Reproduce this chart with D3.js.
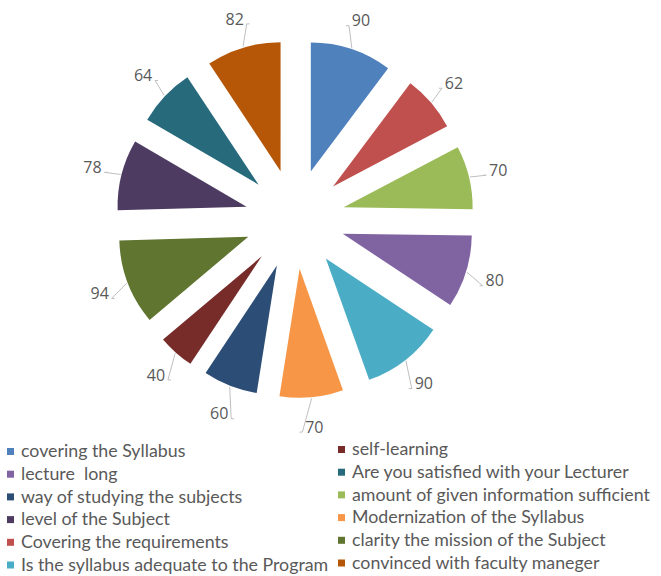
<!DOCTYPE html>
<meta charset="utf-8">
<script src="https://d3js.org/d3.v7.min.js"></script>
<style>
  body { margin: 0; background: #fff; }
</style>
<div id="chart"></div>
<script>

// slices, clockwise from 12 o'clock
var categories = [
  "covering the Syllabus",
  "Covering the requirements",
  "amount of given information sufficient",
  "lecture  long",
  "Is the syllabus adequate to the Program",
  "Modernization of the Syllabus",
  "way of studying the subjects",
  "self-learning",
  "clarity the mission of the Subject",
  "level of the Subject",
  "Are you satisfied with your Lecturer",
  "convinced with faculty maneger"
];
var values = [90, 62, 70, 80, 90, 70, 60, 40, 94, 78, 64, 82];
var colors = ["#4F81BD", "#C0504D", "#9BBB59", "#8064A2", "#4BACC6", "#F79646",
              "#2C4D75", "#772C2A", "#5F7530", "#4D3B62", "#276A7C", "#B65708"];
// legend order, two columns of six (column-major)
var legendOrder = [0, 3, 6, 9, 1, 4, 7, 10, 2, 5, 8, 11];

var width = 661, height = 576;
var cx = 295, cy = 219,
    radius = 129,
    explode = 50;

var svg = d3.select("#chart")
  .append("svg")
    .attr("width", width)
    .attr("height", height);

var data = values.map(function(v, i){ return {name: categories[i], value: v, i: i}; });

var pie = d3.pie()
  .sort(null)
  .value(function(d){ return d.value; });

var arc = d3.arc()
  .innerRadius(0)
  .outerRadius(radius);

var arcs = pie(data);

// offset of each slice along its bisector
function offset(a, dist) {
  var m = (a.startAngle + a.endAngle) / 2;
  return [Math.sin(m) * dist, -Math.cos(m) * dist];
}

var g = svg.append("g")
  .attr("transform", "translate(" + cx + "," + cy + ")");

g.selectAll("path.slice")
  .data(arcs)
  .enter()
  .append("path")
    .attr("class", "slice")
    .attr("d", arc)
    .attr("transform", function(a){
      var o = offset(a, explode);
      return "translate(" + o[0] + "," + o[1] + ")";
    })
    .style("fill", function(a){ return colors[a.data.i]; });

// data labels with leader lines
var labelDist = radius + 30;
arcs.forEach(function(a){
  var o = offset(a, explode);
  var p0 = offset(a, radius + 1);
  var pl = offset(a, labelDist);
  var ax = o[0] + p0[0], ay = o[1] + p0[1];
  var lx = o[0] + pl[0], ly = o[1] + pl[1];
  var right = lx > 0;
  var ex = lx + (right ? -12 : 12);
  var ey = ly + 5;

  g.append("path")
    .attr("d", "M" + ax + "," + ay + "L" + ex + "," + ey + "L" + (ex + (right ? -3 : 3)) + "," + ey)
    .style("fill", "none")
    .style("stroke", "#bfbfbf")
    .style("stroke-width", 1);

  g.append("text")
    .attr("x", lx)
    .attr("y", ly)
    .attr("dy", "0.35em")
    .attr("text-anchor", "middle")
    .style("font-family", "'Open Sans', sans-serif")
    .style("font-size", "16px")
    .style("fill", "#595959")
    .text(a.data.value);
});

// legend
var legend = svg.append("g");
legendOrder.forEach(function(idx, k){
  var col = Math.floor(k / 6), row = k % 6;
  var x = col === 0 ? 7 : 338;
  var y = 451 + row * 22.7 - (col === 0 ? 0 : 2);
  legend.append("rect")
    .attr("x", x)
    .attr("y", y - 3)
    .attr("width", 7)
    .attr("height", 7)
    .style("fill", colors[idx]);
  legend.append("text")
    .attr("x", x + 14)
    .attr("y", y)
    .attr("dy", "0.35em")
    .style("font-family", "Lato, sans-serif")
    .style("font-size", "17.8px")
    .style("white-space", "pre")
    .style("fill", "#595959")
    .text(categories[idx]);
});

</script>
